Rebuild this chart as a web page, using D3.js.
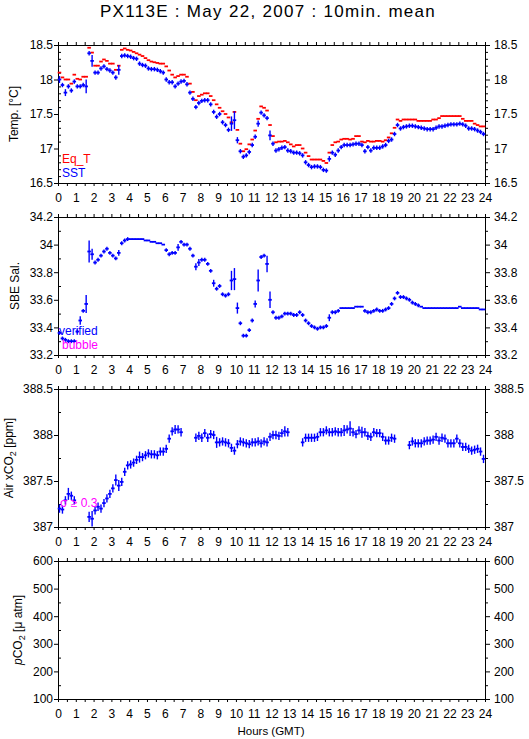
<!DOCTYPE html>
<html>
<head>
<meta charset="utf-8">
<script src="https://cdn.jsdelivr.net/npm/d3@7"></script>
<style>
  body { margin: 0; background: #fff; }
  text { font-family: "Liberation Sans", Arial, Helvetica, sans-serif; }
</style>
</head>
<body>
<svg id="chart" width="529" height="739"></svg>
<script>
// 10-minute means, index i -> hour i/6
const eqT = [
  18.10,18.03,18.00,18.00,17.94,18.07, 18.01,18.00,18.04,18.04,18.46,18.39,
  18.20,18.20,18.26,18.29,18.27,18.23, 18.23,18.14,18.20,18.43,18.45,18.43,
  18.42,18.40,18.38,18.36,18.34,18.31, 18.28,18.26,18.25,18.24,18.23,18.23,
  18.19,18.13,18.07,18.03,18.05,18.07, 18.07,18.04,17.94,17.82,17.70,17.76,
  17.78,17.80,17.80,17.76,17.70,17.64, 17.59,17.54,17.50,17.45,17.38,17.53,
  17.27,17.07,16.96,16.99,17.06,17.13, 17.26,17.43,17.61,17.59,17.55,17.34,
  17.18,17.09,17.10,17.10,17.11,17.09, 17.06,17.03,17.05,17.05,17.00,16.94,
  16.89,16.84,16.84,16.84,16.84,16.82, 16.79,16.94,17.05,17.09,17.10,17.13,
  17.14,17.14,17.13,17.14,17.18,17.18, 17.10,17.09,17.11,17.10,17.10,17.11,
  17.11,17.10,17.12,17.16,17.22,17.30, 17.42,17.40,17.42,17.42,17.42,17.42,
  17.42,17.40,17.40,17.40,17.40,17.40, 17.42,17.42,17.44,17.47,17.47,17.47,
  17.47,17.47,17.47,17.47,17.43,17.40, 17.40,17.40,17.36,17.34,17.32,17.32
];
const sst = [
  18.00,17.92,17.81,17.90,17.84,17.97, 17.90,17.90,17.92,17.90,18.38,18.27,
  18.10,18.10,18.16,18.19,18.15,18.13, 18.10,18.03,18.14,18.34,18.35,18.34,
  18.33,18.31,18.30,18.23,18.21,18.20, 18.16,18.15,18.15,18.14,18.12,18.10,
  18.00,17.96,17.96,17.90,17.94,17.97, 17.98,17.93,17.81,17.72,17.60,17.66,
  17.69,17.70,17.70,17.64,17.53,17.46, 17.50,17.38,17.34,17.27,17.36,17.41,
  17.12,16.96,16.88,16.90,16.95,17.05, 17.17,17.36,17.52,17.48,17.44,17.19,
  17.07,16.97,16.99,17.01,17.02,16.97, 16.96,16.94,16.94,16.93,16.90,16.80,
  16.76,16.73,16.74,16.74,16.73,16.69, 16.68,16.85,16.94,16.91,16.97,17.02,
  17.05,17.05,17.05,17.06,17.07,17.07, 17.05,16.96,17.02,16.97,17.01,17.01,
  17.01,17.03,17.05,17.11,17.13,17.21, 17.34,17.29,17.31,17.32,17.33,17.33,
  17.32,17.31,17.30,17.29,17.28,17.28, 17.28,17.30,17.32,17.32,17.33,17.34,
  17.35,17.35,17.35,17.36,17.35,17.33, 17.29,17.29,17.28,17.26,17.24,17.21
];
const sal = [
  33.36,33.32,33.31,33.30,33.30,33.30, 33.37,33.45,33.52,33.57,33.95,33.93,
  33.87,33.89,33.92,33.95,33.97,33.94, 33.92,33.90,33.94,34.01,34.03,34.04,
  34.04,34.04,34.04,34.04,34.04,34.03, 34.03,34.02,34.02,34.01,34.01,34.00,
  33.96,33.93,33.94,33.94,33.98,34.02, 34.00,34.00,33.97,33.92,33.84,33.87,
  33.89,33.89,33.86,33.81,33.72,33.68, 33.70,33.64,33.63,33.64,33.74,33.75,
  33.54,33.43,33.34,33.34,33.38,33.45, 33.57,33.74,33.91,33.92,33.86,33.60,
  33.51,33.47,33.47,33.48,33.50,33.50, 33.50,33.49,33.49,33.51,33.49,33.45,
  33.43,33.41,33.40,33.39,33.40,33.40, 33.41,33.47,33.51,33.51,33.52,33.54,
  33.54,33.54,33.54,33.54,33.55,33.55, 33.55,33.52,33.51,33.51,33.52,33.53,
  33.52,33.52,33.53,33.54,33.57,33.61, 33.65,33.62,33.62,33.61,33.60,33.58,
  33.57,33.56,33.55,33.54,33.54,33.54, 33.54,33.54,33.54,33.54,33.54,33.54,
  33.54,33.54,33.54,33.55,33.54,33.54, 33.54,33.54,33.54,33.54,33.53,33.53
];
const airCO2 = [
  387.20,387.19,387.29,387.36,387.34,387.29, null,null,null,null,387.11,387.09,
  387.18,387.22,387.20,387.26,387.31,387.36, 387.42,387.51,387.45,387.49,387.60,387.67,
  387.68,387.70,387.73,387.76,387.76,387.78, 387.80,387.79,387.79,387.78,387.82,387.82,
  387.85,387.96,388.04,388.06,388.06,388.03, null,null,null,null,387.97,387.99,
  387.97,388.02,387.97,388.01,388.00,387.92, 387.92,387.93,387.92,387.91,387.86,387.83,
  387.90,387.93,387.92,387.91,387.90,387.92, 387.92,387.93,387.91,387.93,387.92,387.98,
  388.00,388.00,387.99,388.02,388.04,388.03, null,null,null,null,387.92,387.97,
  387.97,387.97,387.97,387.98,388.03,388.03, 388.05,388.03,388.03,388.04,388.03,388.03,
  388.05,388.06,388.07,388.03,388.01,388.05, 388.03,388.03,387.99,387.98,388.03,388.02,
  388.02,387.98,387.94,387.94,387.97,387.96, null,null,null,null,387.89,387.93,
  387.91,387.91,387.91,387.93,387.94,387.94, 387.95,387.98,387.94,387.97,387.96,387.91,
  387.91,387.91,387.96,387.91,387.87,387.87, 387.85,387.83,387.84,387.85,387.82,387.74
];

// spread (half length of the vertical bars): default, wide points, flat runs
const sstSdWide = [[0,0.05],[2,0.05],[9,0.1],[11,0.085],[20,0.07],[58,0.105],[59,0.13],[60,0.045],[67,0.045],[71,0.07],[91,0.04]];
const salSdWide = [[7,0.03],[9,0.065],[10,0.08],[11,0.04],[20,0.02],[40,0.025],[46,0.025],[47,0.025],[52,0.025],
  [58,0.07],[59,0.08],[60,0.04],[66,0.025],[67,0.08],[70,0.06],[71,0.06],[91,0.025]];
const salFlat = [[24,35],[95,102],[122,143]];
const co2SdWide = [[3,0.065],[10,0.055],[11,0.085],[19,0.06],[20,0.06],[27,0.06],[39,0.05],[53,0.06],[76,0.055],[96,0.06],[98,0.08],[102,0.06]];

const hourTicks = d3.range(0, 25);
const halfHourTicks = d3.range(0, 49).map(k => k / 2);

const panelDefs = [
  { top: 45,  domain: [16.5, 18.5], major: 0.5, minor: 0.1 },
  { top: 217, domain: [33.2, 34.2], major: 0.2, minor: 0.1 },
  { top: 389, domain: [387, 388.5], major: 0.5, minor: 0.25 },
  { top: 561, domain: [100, 600],   major: 100, minor: 50 }
];

const svg = d3.select("#chart");
const left = 58, right = 485, ph = 138;
const blue = "#0000ff", red = "#ff0000", magenta = "#ff00ff";

const x = d3.scaleLinear().domain([0, 24]).range([left, right]);

function stepVals(lo, hi, step) {
  const n = Math.round((hi - lo) / step);
  return d3.range(0, n + 1).map(k => +(lo + k * step).toFixed(4));
}
function sdList(def, wide, flat) {
  const a = new Array(144).fill(def);
  (flat || []).forEach(([s, e]) => { for (let i = s; i <= e; i++) a[i] = 0; });
  wide.forEach(([i, s]) => { a[i] = s; });
  return a;
}
const fmt = d => String(+d.toFixed(2));

function styleAxis(g) {
  g.select(".domain").remove();
  g.selectAll("line").attr("stroke", "#000");
  g.attr("font-family", null).attr("font-size", 12);
  g.selectAll("text").attr("fill", "#000");
}

const ys = panelDefs.map(p => {
  const y = d3.scaleLinear().domain(p.domain).range([p.top + ph, p.top]);
  const majors = stepVals(p.domain[0], p.domain[1], p.major);
  const minors = stepVals(p.domain[0], p.domain[1], p.minor)
    .filter(v => !majors.some(m => Math.abs(m - v) < 1e-6));
  const g = svg.append("g");

  g.append("g").attr("transform", `translate(${left},0)`)
    .call(d3.axisLeft(y).tickValues(majors).tickSize(4).tickPadding(1).tickFormat(fmt)).call(styleAxis);
  g.append("g").attr("transform", `translate(${left},0)`)
    .call(d3.axisLeft(y).tickValues(minors).tickSize(-3).tickFormat("")).call(styleAxis);
  g.append("g").attr("transform", `translate(${right},0)`)
    .call(d3.axisRight(y).tickValues(majors).tickSize(5).tickPadding(4).tickFormat(fmt)).call(styleAxis);
  g.append("g").attr("transform", `translate(${right},0)`)
    .call(d3.axisRight(y).tickValues(minors).tickSize(3).tickFormat("")).call(styleAxis);

  g.append("g").attr("transform", `translate(0,${p.top})`)
    .call(d3.axisTop(x).tickValues(halfHourTicks).tickSize(3).tickFormat("")).call(styleAxis);
  g.append("g").attr("transform", `translate(0,${p.top + ph})`)
    .call(d3.axisBottom(x).tickValues(halfHourTicks).tickSize(3).tickFormat("")).call(styleAxis);
  g.append("g").attr("transform", `translate(0,${p.top + ph})`)
    .call(d3.axisBottom(x).tickValues(hourTicks).tickSize(0).tickPadding(10).tickFormat(d3.format("d"))).call(styleAxis);

  g.append("rect")
    .attr("x", left + 0.5).attr("y", p.top + 0.5)
    .attr("width", right - left).attr("height", ph)
    .attr("fill", "none").attr("stroke", "#000");
  return y;
});

function drawSeries(y, vals, sds, color) {
  const g = svg.append("g").attr("stroke", color).attr("fill", "none");
  vals.forEach((v, i) => {
    if (v == null) return;
    g.append("line")
      .attr("stroke-width", 1.8)
      .attr("x1", x(i / 6) - 0.3).attr("x2", x((i + 1) / 6) + 0.3)
      .attr("y1", y(v)).attr("y2", y(v));
    if (sds && sds[i] > 0) {
      g.append("line")
        .attr("stroke-width", 1.4)
        .attr("x1", x((i + 0.5) / 6)).attr("x2", x((i + 0.5) / 6))
        .attr("y1", y(v - sds[i])).attr("y2", y(v + sds[i]));
    }
  });
}

drawSeries(ys[0], eqT, null, red);
drawSeries(ys[0], sst, sdList(0.032, sstSdWide), blue);
drawSeries(ys[1], sal, sdList(0.014, salSdWide, salFlat), blue);
drawSeries(ys[2], airCO2, sdList(0.045, co2SdWide), blue);

// legends
function label(tx, ty, txt, color) {
  svg.append("text").attr("x", tx).attr("y", ty).attr("font-size", 12).attr("fill", color).text(txt);
}
label(62, 163, "Eq_T", red);
label(62, 177, "SST", blue);
label(59, 335, "verified", blue);
label(62, 349, "bubble", magenta);
label(60, 507, "σ ≥ 0.3", magenta);

// axis titles
function yTitle(bx, panel, parts) {
  const cy = panelDefs[panel].top + ph / 2;
  const t = svg.append("text")
    .attr("transform", `translate(${bx},${cy}) rotate(-90)`)
    .attr("text-anchor", "middle").attr("font-size", 12).attr("fill", "#000");
  parts.forEach(p => {
    const s = t.append("tspan").text(p.t);
    if (p.sub) s.attr("font-size", 9).attr("dy", 3);
    if (p.up) s.attr("dy", -3);
    if (p.it) s.attr("font-style", "italic");
  });
}
yTitle(18, 0, [{ t: "Temp. [°C]" }]);
yTitle(19, 1, [{ t: "SBE Sal." }]);
yTitle(13, 2, [{ t: "Air xCO" }, { t: "2", sub: true }, { t: " [ppm]", up: true }]);
yTitle(22, 3, [{ t: "p", it: true }, { t: "CO" }, { t: "2", sub: true }, { t: " [μ atm]", up: true }]);

svg.append("text")
  .attr("x", 271).attr("y", 735).attr("text-anchor", "middle")
  .attr("font-size", 11.5).attr("fill", "#000").text("Hours (GMT)");

svg.append("text")
  .attr("x", 268).attr("y", 17).attr("text-anchor", "middle")
  .attr("font-size", 17).attr("letter-spacing", 1.3).attr("fill", "#000")
  .text("PX113E : May 22, 2007 : 10min. mean");
</script>
</body>
</html>
